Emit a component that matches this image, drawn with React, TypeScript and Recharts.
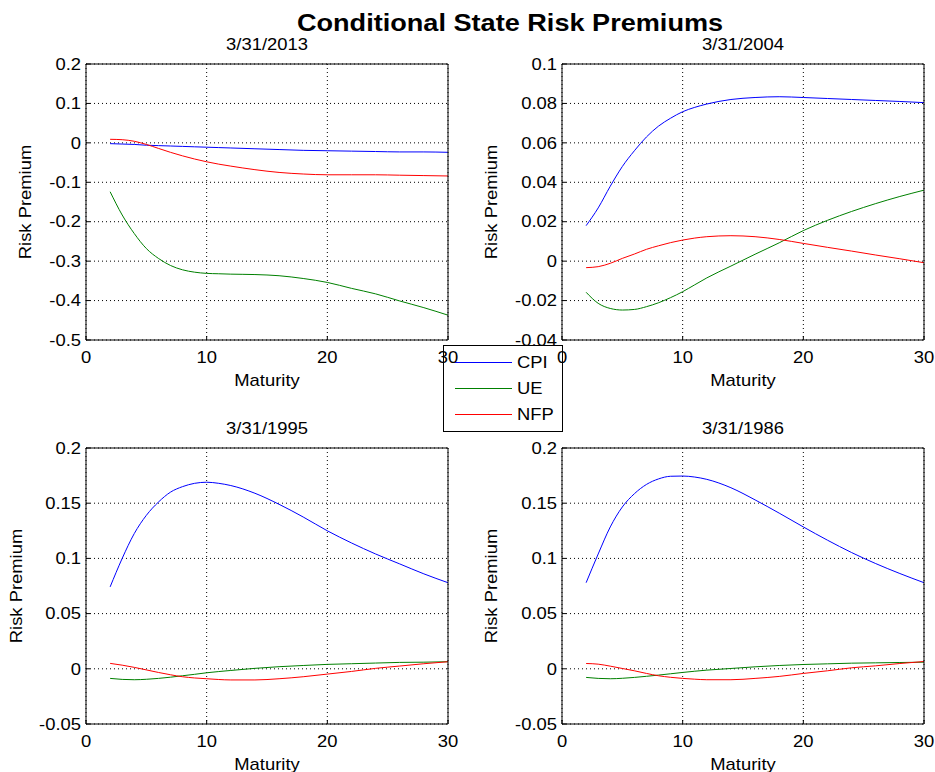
import React from 'react';
import { LineChart, Line, XAxis, YAxis, CartesianGrid } from 'recharts';

// ---------------- data ----------------
const maturities = [2, 3, 4, 5, 6, 7, 8, 9, 10, 11, 12, 14, 16, 18, 20, 22, 24, 26, 28, 30];

const cpi2013 = [-0.002, -0.003, -0.004, -0.006, -0.007, -0.008, -0.009, -0.010, -0.011, -0.012, -0.013, -0.015, -0.017, -0.019, -0.020, -0.021, -0.022, -0.023, -0.023, -0.024];
const ue2013 = [-0.124, -0.183, -0.230, -0.268, -0.293, -0.311, -0.322, -0.328, -0.331, -0.332, -0.333, -0.334, -0.337, -0.344, -0.354, -0.369, -0.383, -0.401, -0.418, -0.437];
const nfp2013 = [0.009, 0.008, 0.004, -0.004, -0.014, -0.024, -0.033, -0.041, -0.048, -0.054, -0.059, -0.068, -0.075, -0.079, -0.081, -0.081, -0.081, -0.082, -0.083, -0.084];

const cpi2004 = [0.018, 0.027, 0.038, 0.048, 0.056, 0.063, 0.0685, 0.0725, 0.0758, 0.078, 0.0797, 0.082, 0.083, 0.0834, 0.083, 0.0825, 0.082, 0.0815, 0.081, 0.0804];
const ue2004 = [-0.0158, -0.0214, -0.024, -0.0248, -0.0245, -0.0231, -0.0211, -0.0185, -0.0155, -0.012, -0.0085, -0.0025, 0.0035, 0.0093, 0.0155, 0.0207, 0.0252, 0.0292, 0.0328, 0.036];
const nfp2004 = [-0.0033, -0.0028, -0.0011, 0.0014, 0.0036, 0.006, 0.0078, 0.0094, 0.0107, 0.0117, 0.0124, 0.0129, 0.0124, 0.011, 0.009, 0.007, 0.0051, 0.0031, 0.0012, -0.0008];

const cpi1995 = [0.0742, 0.100, 0.1225, 0.139, 0.151, 0.160, 0.165, 0.168, 0.169, 0.168, 0.166, 0.159, 0.149, 0.1375, 0.125, 0.114, 0.104, 0.095, 0.086, 0.078];
const ue1995 = [-0.0087, -0.0096, -0.0099, -0.0095, -0.0087, -0.0076, -0.0063, -0.005, -0.0036, -0.0025, -0.0015, 0.0004, 0.0019, 0.003, 0.004, 0.0046, 0.0052, 0.0058, 0.006, 0.0064];
const nfp1995 = [0.0049, 0.0033, 0.0013, -0.001, -0.0033, -0.0054, -0.0072, -0.0083, -0.009, -0.0097, -0.0101, -0.0101, -0.009, -0.0072, -0.0048, -0.0024, 0.0004, 0.0025, 0.0046, 0.0064];

const cpi1986 = [0.078, 0.104, 0.1285, 0.1466, 0.1586, 0.167, 0.172, 0.1744, 0.1746, 0.1737, 0.1716, 0.164, 0.153, 0.141, 0.1285, 0.1165, 0.1053, 0.0953, 0.0863, 0.078];
const ue1986 = [-0.0078, -0.0087, -0.009, -0.0086, -0.0078, -0.0068, -0.0057, -0.0045, -0.0033, -0.0022, -0.0012, 0.0003, 0.0018, 0.003, 0.0039, 0.0045, 0.0051, 0.0054, 0.0057, 0.006];
const nfp1986 = [0.0048, 0.0042, 0.0024, 0.0003, -0.0018, -0.0042, -0.0063, -0.0077, -0.0087, -0.0094, -0.0099, -0.0099, -0.0087, -0.0069, -0.0042, -0.0018, 0.0009, 0.0027, 0.0048, 0.0066];

const xTicks = [0, 10, 20, 30];
const xTickLabels = ['0', '10', '20', '30'];

const yTicks2013 = [-0.5, -0.4, -0.3, -0.2, -0.1, 0, 0.1, 0.2];
const yTickLabels2013 = ['-0.5', '-0.4', '-0.3', '-0.2', '-0.1', '0', '0.1', '0.2'];
const yTicks2004 = [-0.04, -0.02, 0, 0.02, 0.04, 0.06, 0.08, 0.1];
const yTickLabels2004 = ['-0.04', '-0.02', '0', '0.02', '0.04', '0.06', '0.08', '0.1'];
const yTicksOld = [-0.05, 0, 0.05, 0.1, 0.15, 0.2];
const yTickLabelsOld = ['-0.05', '0', '0.05', '0.1', '0.15', '0.2'];

const panelTitles = ['3/31/2013', '3/31/2004', '3/31/1995', '3/31/1986'];
const seriesNames = ['CPI', 'UE', 'NFP'];
const seriesColors = ['#0000ff', '#008000', '#ff0000'];
const chartTitle = 'Conditional State Risk Premiums';
const xLabel = 'Maturity';
const yLabel = 'Risk Premium';

// ---------------- helpers ----------------
const FONT = '"Liberation Sans", Arial, Helvetica, sans-serif';
const SX = 1.15;
const Y_AXIS_W = 30;
const X_AXIS_H = 30;
const MIRROR_SIZE = 5;

function buildRows(cpi: number[], ue: number[], nfp: number[]) {
  return maturities.map((m, i) => ({ m, CPI: cpi[i], UE: ue[i], NFP: nfp[i] }));
}

const panels = [
  {
    title: panelTitles[0],
    box: { x: 0, y: 0, w: 467, h: 386 },
    plot: { l: 86, t: 64, r: 448, b: 340 },
    rows: buildRows(cpi2013, ue2013, nfp2013),
    yTicks: yTicks2013,
    yLabels: yTickLabels2013,
    yLabelX: 31,
  },
  {
    title: panelTitles[1],
    box: { x: 467, y: 0, w: 468, h: 386 },
    plot: { l: 562, t: 64, r: 924, b: 340 },
    rows: buildRows(cpi2004, ue2004, nfp2004),
    yTicks: yTicks2004,
    yLabels: yTickLabels2004,
    yLabelX: 497,
  },
  {
    title: panelTitles[2],
    box: { x: 0, y: 386, w: 467, h: 386 },
    plot: { l: 86, t: 448, r: 448, b: 724 },
    rows: buildRows(cpi1995, ue1995, nfp1995),
    yTicks: yTicksOld,
    yLabels: yTickLabelsOld,
    yLabelX: 22,
  },
  {
    title: panelTitles[3],
    box: { x: 467, y: 386, w: 468, h: 386 },
    plot: { l: 562, t: 448, r: 924, b: 724 },
    rows: buildRows(cpi1986, ue1986, nfp1986),
    yTicks: yTicksOld,
    yLabels: yTickLabelsOld,
    yLabelX: 497,
  },
];

function SText(props: {
  x: number; y: number; children: React.ReactNode; size?: number; anchor?: string;
  sx?: number; rotate?: number; weight?: string;
}) {
  const { x, y, children, size = 16, anchor = 'middle', sx = SX, rotate = 0, weight = 'normal' } = props;
  const t = `translate(${x},${y})${rotate ? ` rotate(${rotate})` : ''} scale(${sx},1)`;
  return (
    <text transform={t} textAnchor={anchor as any} fontSize={size} fontFamily={FONT} fontWeight={weight} fill="#000">
      {children}
    </text>
  );
}

function labelFor(ticks: number[], labels: string[], v: number) {
  let best = 0;
  for (let i = 0; i < ticks.length; i++) {
    if (Math.abs(ticks[i] - v) < Math.abs(ticks[best] - v)) best = i;
  }
  return labels[best];
}

function Panel({ cfg }: { cfg: (typeof panels)[number] }) {
  const { box, plot, rows, yTicks, yLabels } = cfg;
  const margin = {
    left: plot.l - box.x - Y_AXIS_W,
    top: plot.t - box.y - MIRROR_SIZE,
    right: box.x + box.w - plot.r - MIRROR_SIZE,
    bottom: box.y + box.h - plot.b - X_AXIS_H,
  };
  const plotLeft = plot.l - box.x;
  const plotBottom = plot.b - box.y;
  const yDomain = [yTicks[0], yTicks[yTicks.length - 1]];

  const renderYTick = (p: any) => (
    <SText x={plotLeft - 5} y={p.y + 5.7} anchor="end">
      {labelFor(yTicks, yLabels, p.payload.value)}
    </SText>
  );
  const renderXTick = (p: any) => (
    <SText x={p.x} y={plotBottom + 23}>
      {labelFor(xTicks, xTickLabels, p.payload.value)}
    </SText>
  );

  return (
    <div style={{ position: 'absolute', left: box.x, top: box.y, width: box.w, height: box.h }}>
      <LineChart width={box.w} height={box.h} data={rows} margin={margin}>
        <CartesianGrid stroke="#000" strokeDasharray="1 3" strokeWidth={1} />
        <XAxis
          dataKey="m" type="number" domain={[0, 30]} ticks={xTicks} interval={0} allowDataOverflow
          height={X_AXIS_H} axisLine={{ stroke: '#000' }} tickLine={{ stroke: '#000' }} tickSize={-4}
          tick={renderXTick}
        />
        <XAxis
          xAxisId="top" orientation="top" dataKey="m" type="number" domain={[0, 30]} ticks={xTicks}
          interval={0} allowDataOverflow height={MIRROR_SIZE} axisLine={{ stroke: '#000' }}
          tickLine={{ stroke: '#000' }} tickSize={-4} tick={false}
        />
        <YAxis
          type="number" domain={yDomain} ticks={yTicks} interval={0} allowDataOverflow width={Y_AXIS_W}
          axisLine={{ stroke: '#000' }} tickLine={{ stroke: '#000' }} tickSize={-4} tick={renderYTick}
        />
        <YAxis
          yAxisId="right" orientation="right" type="number" domain={yDomain} ticks={yTicks} interval={0}
          allowDataOverflow width={MIRROR_SIZE} axisLine={{ stroke: '#000' }} tickLine={{ stroke: '#000' }}
          tickSize={-4} tick={false}
        />
        {seriesNames.map((name, i) => (
          <Line
            key={name} dataKey={name} type="monotone" stroke={seriesColors[i]} strokeWidth={1}
            dot={false} activeDot={false} isAnimationActive={false}
          />
        ))}
      </LineChart>
    </div>
  );
}

export default function App() {
  const legend = { x: 443, y: 345, w: 119, h: 86 };
  const legendRowY = [362, 388, 414];
  return (
    <div style={{ position: 'absolute', left: 0, top: 0, width: 935, height: 772, background: '#fff', overflow: 'hidden' }}>
      <svg width={935} height={772} style={{ position: 'absolute', left: 0, top: 0 }}>
        <SText x={510} y={31} size={24} weight="bold" sx={1.13}>{chartTitle}</SText>
        {panels.map((p) => {
          const cx = (p.plot.l + p.plot.r) / 2;
          const cy = (p.plot.t + p.plot.b) / 2;
          return (
            <g key={p.title}>
              <SText x={cx} y={p.plot.t - 14}>{p.title}</SText>
              <SText x={cx} y={p.plot.b + 45.5}>{xLabel}</SText>
              <SText x={p.yLabelX} y={cy} rotate={-90}>{yLabel}</SText>
            </g>
          );
        })}
        <rect x={legend.x + 0.5} y={legend.y + 0.5} width={legend.w} height={legend.h} fill="#fff" stroke="#000" strokeWidth={1} />
        {seriesNames.map((name, i) => (
          <g key={name}>
            <line x1={455} x2={512} y1={legendRowY[i] + 0.5} y2={legendRowY[i] + 0.5} stroke={seriesColors[i]} strokeWidth={1} />
            <SText x={517} y={legendRowY[i] + 6} anchor="start">{name}</SText>
          </g>
        ))}
      </svg>
      {panels.map((p) => (
        <Panel key={p.title} cfg={p} />
      ))}
    </div>
  );
}
